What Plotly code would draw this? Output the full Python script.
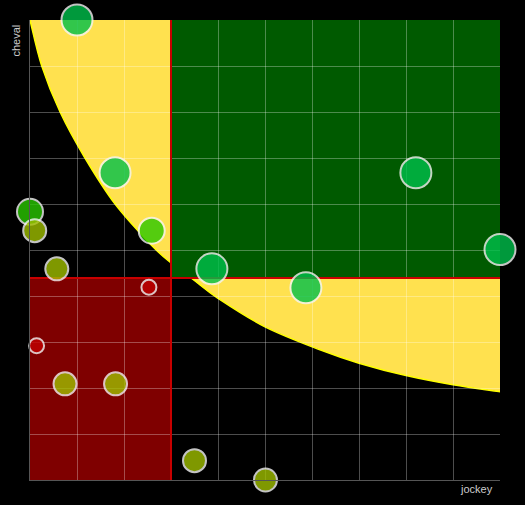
import plotly.graph_objects as go

# ---- data ----
jockey = [1.0, 1.81, 0.0, 0.1, 0.57, 2.59, 2.53, 0.14, 0.745, 1.82, 3.87, 5.87, 8.21, 10.0, 3.50, 5.01]
cheval = [10.0, 6.68, 5.83, 5.42, 4.59, 5.42, 4.19, 2.92, 2.09, 2.09, 4.59, 4.18, 6.68, 5.01, 0.42, 0.0]
group = ["vert", "vert", "lime", "olive", "olive", "lime", "rouge", "rouge",
         "olive", "olive", "vert", "vert", "vert", "vert", "olive", "olive"]

# threshold curve (edge of the yellow zone)
curve_x = [0, 0.25, 0.64, 1.17, 1.81, 2.59, 3.0, 3.47, 4.0, 5.0, 6.17, 7.0, 8.0, 9.0, 10]
curve_y = [10, 9.0, 8.0, 7.0, 6.0, 5.1, 4.72, 4.36, 3.95, 3.33, 2.83, 2.54, 2.27, 2.07, 1.92]

# quadrant split
split_x = 3.0
split_y = 4.39
axis_max = 10

# ---- styles ----
styles = {
    "vert": dict(color="#00c04b", size=31),
    "lime": dict(color="#2ac800", size=26),
    "olive": dict(color="#9fbf00", size=23),
    "rouge": dict(color="#c00000", size=15),
}


def smooth_path(xs, ys):
    pts = list(zip(xs, ys))
    d = f"M {pts[0][0]},{pts[0][1]}"
    n = len(pts)
    for i in range(n - 1):
        p0 = pts[i - 1] if i > 0 else pts[i]
        p1 = pts[i]
        p2 = pts[i + 1]
        p3 = pts[i + 2] if i + 2 < n else pts[i + 1]
        c1 = (p1[0] + (p2[0] - p0[0]) / 6, p1[1] + (p2[1] - p0[1]) / 6)
        c2 = (p2[0] - (p3[0] - p1[0]) / 6, p2[1] - (p3[1] - p1[1]) / 6)
        d += f" C {c1[0]:.4f},{c1[1]:.4f} {c2[0]:.4f},{c2[1]:.4f} {p2[0]},{p2[1]}"
    return d


curve_d = smooth_path(curve_x, curve_y)
fill_d = curve_d + f" L {axis_max},{axis_max} L {curve_x[0]},{axis_max} Z"

fig = go.Figure()

for g, st in styles.items():
    xs = [x for x, gg in zip(jockey, group) if gg == g]
    ys = [y for y, gg in zip(cheval, group) if gg == g]
    fig.add_trace(go.Scatter(
        x=xs, y=ys, mode="markers", name=g, cliponaxis=False,
        marker=dict(color=st["color"], size=st["size"], opacity=0.8,
                    line=dict(color="#f4f4f4", width=2)),
        hoverinfo="x+y",
    ))

shapes = [
    dict(type="path", path=fill_d, xref="x", yref="y", fillcolor="#ffe14f",
         line=dict(width=0), layer="below"),
    dict(type="path", path=curve_d, xref="x", yref="y",
         line=dict(color="#ffff00", width=1.5), layer="below"),
    dict(type="rect", x0=split_x, x1=axis_max, y0=split_y, y1=axis_max, xref="x", yref="y",
         fillcolor="#005a00", line=dict(width=0), layer="below"),
    dict(type="rect", x0=0, x1=split_x, y0=0, y1=split_y, xref="x", yref="y",
         fillcolor="#7f0000", line=dict(width=0), layer="below"),
    dict(type="line", x0=split_x, x1=split_x, y0=0, y1=axis_max, xref="x", yref="y",
         line=dict(color="#c80000", width=2), layer="between"),
    dict(type="line", x0=0, x1=axis_max, y0=split_y, y1=split_y, xref="x", yref="y",
         line=dict(color="#c80000", width=2), layer="between"),
]

fig.update_layout(
    width=525, height=505,
    margin=dict(l=30, r=25, t=20, b=25),
    paper_bgcolor="#000000", plot_bgcolor="#000000",
    showlegend=False,
    shapes=shapes,
    font=dict(family="Liberation Sans, Arial, sans-serif", size=11, color="#cccccc"),
    annotations=[
        dict(text="jockey", xref="paper", yref="paper", x=(495 - 30) / 470, y=-(489.5 - 480) / 460,
             xanchor="right", yanchor="middle", showarrow=False,
             font=dict(size=11, color="#cccccc")),
        dict(text="cheval", xref="paper", yref="paper", x=(15.5 - 30) / 470, y=(480 - 23) / 460,
             xanchor="center", yanchor="top", textangle=-90, showarrow=False,
             font=dict(size=11, color="#cccccc")),
    ],
)

fig.update_xaxes(range=[0, axis_max], dtick=1, showticklabels=False, ticks="",
                 showgrid=True, gridcolor="rgba(255,255,255,0.3)", gridwidth=1,
                 zeroline=False, showline=True, linecolor="#555555", linewidth=1)
fig.update_yaxes(range=[0, axis_max], dtick=1, showticklabels=False, ticks="",
                 showgrid=True, gridcolor="rgba(255,255,255,0.3)", gridwidth=1,
                 zeroline=False, showline=True, linecolor="#555555", linewidth=1)

fig.write_html(
    "out.html",
    config={"displayModeBar": False},
    post_script="document.body.style.margin='0';document.body.style.background='#000';",
)
